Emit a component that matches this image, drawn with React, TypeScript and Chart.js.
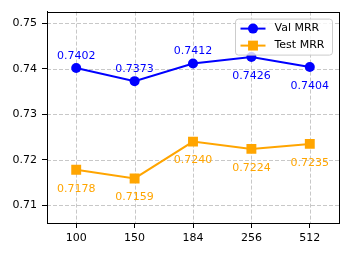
import React, { useEffect, useRef } from "react";
import { Chart, registerables } from "chart.js";
Chart.register(...registerables);

const categories = ["100", "150", "184", "256", "512"];
const valMRR = [0.7402, 0.7373, 0.7412, 0.7426, 0.7404];
const testMRR = [0.7178, 0.7159, 0.724, 0.7224, 0.7235];
const yTicks = [0.71, 0.72, 0.73, 0.74, 0.75];
const valLabelAbove = [true, true, true, false, false];
const testLabelAbove = [false, false, false, false, false];
const seriesNames = ["Val MRR", "Test MRR"];
const BLUE = "#0000ff";
const ORANGE = "#ffa500";
const FONT = "DejaVu Sans";

const decorPlugin = {
  id: "decor",
  beforeDatasetsDraw(chart: any) {
    const { ctx, chartArea: a, scales } = chart;
    ctx.save();
    ctx.strokeStyle = "rgba(176,176,176,0.7)";
    ctx.lineWidth = 1;
    ctx.setLineDash([4, 2]);
    scales.x.ticks.forEach((_t: any, i: number) => {
      const x = Math.round(scales.x.getPixelForTick(i)) + 0.5;
      ctx.beginPath();
      ctx.moveTo(x, a.top);
      ctx.lineTo(x, a.bottom);
      ctx.stroke();
    });
    yTicks.forEach((v) => {
      const y = Math.round(scales.y.getPixelForValue(v)) + 0.5;
      ctx.beginPath();
      ctx.moveTo(a.left, y);
      ctx.lineTo(a.right, y);
      ctx.stroke();
    });
    ctx.restore();
  },
  afterDatasetsDraw(chart: any) {
    const { ctx, chartArea: a } = chart;
    ctx.save();
    // spines
    ctx.strokeStyle = "#000";
    ctx.lineWidth = 1;
    ctx.setLineDash([]);
    ctx.strokeRect(Math.round(a.left) + 0.5, Math.round(a.top) + 0.5, Math.round(a.right - a.left), Math.round(a.bottom - a.top));

    // data labels
    ctx.font = `11px "${FONT}"`;
    ctx.textAlign = "center";
    ctx.textBaseline = "middle";
    const sets = [
      { idx: 0, color: BLUE, above: valLabelAbove, data: valMRR },
      { idx: 1, color: ORANGE, above: testLabelAbove, data: testMRR },
    ];
    sets.forEach((s) => {
      const meta = chart.getDatasetMeta(s.idx);
      ctx.fillStyle = s.color;
      meta.data.forEach((pt: any, i: number) => {
        const y = s.above[i] ? pt.y - 12 : pt.y + 19;
        ctx.fillText(s.data[i].toFixed(4), pt.x, y);
      });
    });

    // legend
    const w = 97, h = 36;
    const lx = a.right - 7 - w + 0.5;
    const ly = a.top + 7 + 0.5;
    ctx.beginPath();
    (ctx as any).roundRect(lx, ly, w, h, 3);
    ctx.fillStyle = "rgba(255,255,255,0.8)";
    ctx.fill();
    ctx.strokeStyle = "#cccccc";
    ctx.stroke();
    const rows = [
      { name: seriesNames[0], color: BLUE, style: "circle", r: 5 },
      { name: seriesNames[1], color: ORANGE, style: "rect", r: 7 },
    ];
    rows.forEach((r, i) => {
      const cy = ly + 9.5 + i * 17;
      const x0 = lx + 5, x1 = lx + 30;
      ctx.strokeStyle = r.color;
      ctx.lineWidth = 2;
      ctx.beginPath();
      ctx.moveTo(x0, cy);
      ctx.lineTo(x1, cy);
      ctx.stroke();
      ctx.fillStyle = r.color;
      ctx.beginPath();
      if (r.style === "circle") {
        ctx.arc((x0 + x1) / 2, cy, r.r, 0, Math.PI * 2);
      } else {
        const s = r.r * Math.SQRT1_2;
        ctx.rect((x0 + x1) / 2 - s, cy - s, 2 * s, 2 * s);
      }
      ctx.fill();
      ctx.fillStyle = "#000";
      ctx.textAlign = "left";
      ctx.textBaseline = "middle";
      ctx.font = `11px "${FONT}"`;
      ctx.fillText(r.name, lx + 39, cy);
    });
    ctx.restore();
  },
};

export default function App() {
  const ref = useRef<HTMLCanvasElement>(null);
  useEffect(() => {
    if (!ref.current) return;
    Chart.defaults.font.family = FONT;
    const chart = new Chart(ref.current, {
      type: "line",
      data: {
        labels: categories,
        datasets: [
          {
            label: seriesNames[0],
            data: valMRR,
            borderColor: BLUE,
            backgroundColor: BLUE,
            borderWidth: 2,
            pointStyle: "circle",
            pointRadius: 5,
            pointBorderWidth: 0,
            tension: 0,
          },
          {
            label: seriesNames[1],
            data: testMRR,
            borderColor: ORANGE,
            backgroundColor: ORANGE,
            borderWidth: 2,
            pointStyle: "rect",
            pointRadius: 7,
            pointBorderWidth: 0,
            tension: 0,
          },
        ],
      },
      options: {
        animation: false,
        responsive: true,
        maintainAspectRatio: false,
        layout: { padding: { top: 10, right: 10, left: 0, bottom: 0 } },
        plugins: { legend: { display: false }, tooltip: { enabled: false } },
        scales: {
          x: {
            type: "category",
            offset: true,
            grid: { display: true, drawOnChartArea: false, drawTicks: true, tickLength: 5, color: "#000" },
            border: { display: true, color: "#000", width: 1 },
            ticks: { color: "#000", font: { family: FONT, size: 11 }, padding: 4, maxRotation: 0, autoSkip: false },
            afterFit: (s: any) => { s.height = 33; },
          },
          y: {
            type: "linear",
            min: 0.7061,
            max: 0.7526,
            afterBuildTicks: (s: any) => { s.ticks = yTicks.map((v) => ({ value: v })); },
            grid: { display: true, drawOnChartArea: false, drawTicks: true, tickLength: 5, color: "#000" },
            border: { display: true, color: "#000", width: 1 },
            ticks: { color: "#000", font: { family: FONT, size: 11 }, padding: 5, callback: (v: any) => Number(v).toFixed(2) },
            afterFit: (s: any) => { s.width = 47; },
          },
        },
      },
      plugins: [decorPlugin],
    });
    return () => chart.destroy();
  }, []);
  return (
    <div style={{ position: "fixed", left: 0, top: 0, width: 349, height: 256, background: "#fff" }}>
      <canvas ref={ref} width={349} height={256} />
    </div>
  );
}
